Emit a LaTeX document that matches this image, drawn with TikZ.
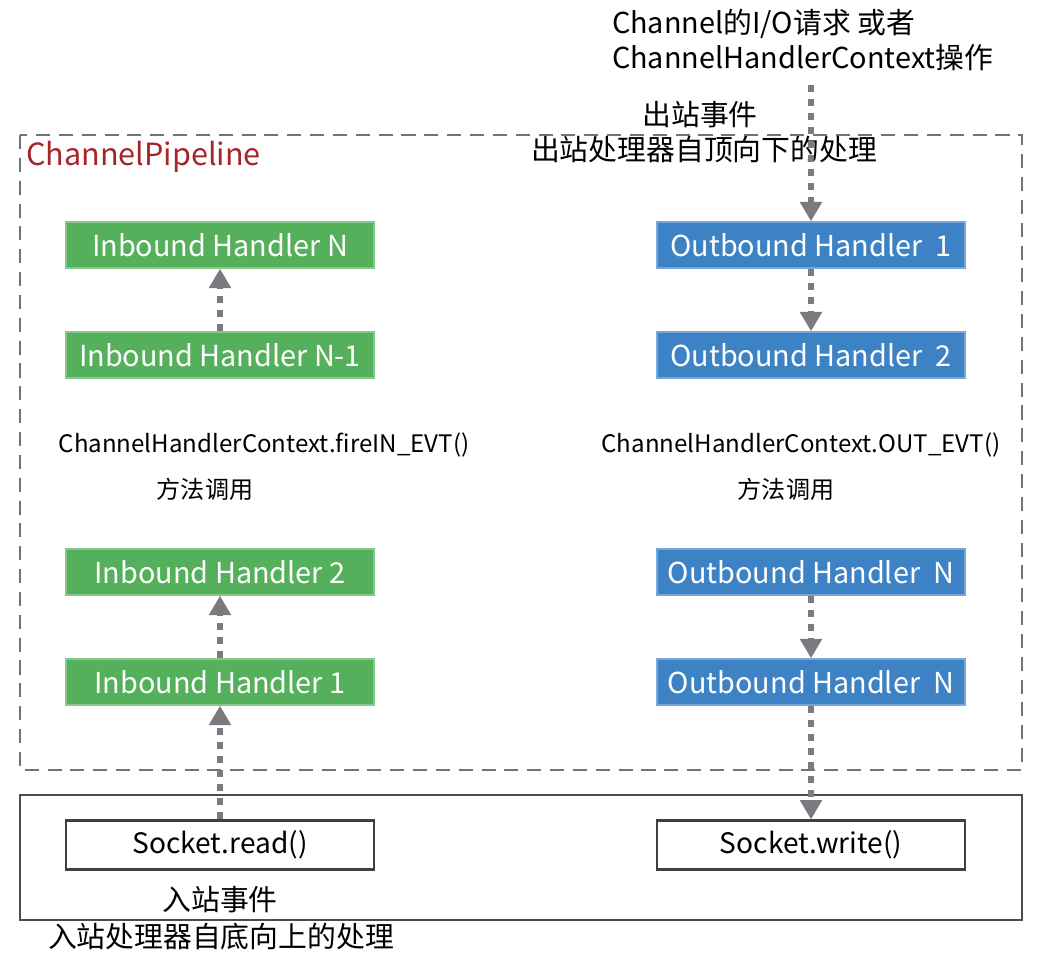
\documentclass[tikz,border=0pt]{standalone}
\usepackage{fontspec}
\setmainfont{Noto Sans CJK SC}
\usetikzlibrary{positioning,arrows.meta}
\definecolor{InGreen}{RGB}{84,176,90}
\definecolor{OutBlue}{RGB}{60,130,196}
\definecolor{PipeRed}{RGB}{165,38,40}
\definecolor{FlowGray}{RGB}{122,122,128}
\tikzset{
  inbox/.style={draw=InGreen!70!white,fill=InGreen,text=white,line width=0.8pt,
    minimum width=6.16cm,minimum height=0.92cm,inner sep=0pt,font=\fontsize{16.4}{19}\selectfont},
  outbox/.style={inbox,draw=OutBlue!70!white,fill=OutBlue},
  sockbox/.style={draw=black!75,fill=white,line width=1.2pt,
    minimum width=6.16cm,minimum height=0.98cm,inner sep=0pt,font=\fontsize{16}{19}\selectfont},
  flow/.style={draw=FlowGray,line width=3pt,dash pattern=on 4pt off 4pt,
    -{Triangle[length=11pt,width=12pt]}},
  note/.style={inner sep=1pt,font=\fontsize{13.7}{16}\selectfont},
  bignote/.style={inner sep=1pt,align=left,font=\fontsize{16.4}{20}\selectfont},
}
\begin{document}
\begin{tikzpicture}
  \useasboundingbox (0,0) rectangle (21,-19.24);
  % frames
  \draw[black!55,line width=1.6pt,dash pattern=on 8pt off 5pt] (0.4,-2.7) rectangle (20.44,-15.4);
  \draw[black!70,line width=1.3pt] (0.4,-15.9) rectangle (20.44,-18.4);
  \node[anchor=west,inner sep=0pt,text=PipeRed,font=\fontsize{17.4}{20}\selectfont] (pipe) at (0.52,-3.14) {ChannelPipeline};
  % inbound side
  \node[inbox] (inN) at (4.4,-4.9) {Inbound Handler N};
  \node[inbox] (inNm) at (4.4,-7.1) {Inbound Handler N-1};
  \node[inbox] (in2) at (4.4,-11.44) {Inbound Handler 2};
  \node[inbox] (in1) at (4.4,-13.64) {Inbound Handler 1};
  \node[sockbox] (read) at (4.4,-16.9) {Socket.read()};
  % outbound side
  \node[outbox] (out1) at (16.22,-4.9) {Outbound Handler\ \ 1};
  \node[outbox] (out2) at (16.22,-7.1) {Outbound Handler\ \ 2};
  \node[outbox] (outN) at (16.22,-11.44) {Outbound Handler\ \ N};
  \node[outbox] (outNb) at (16.22,-13.64) {Outbound Handler\ \ N};
  \node[sockbox] (write) at (16.22,-16.9) {Socket.write()};
  % texts
  \node[bignote,anchor=west] (req) at (12.2,-0.8) {Channel的I/O请求 或者\\ChannelHandlerContext操作};
  \node[bignote] (outevt) at (14.0,-2.3) {出站事件};
  \node[bignote] (outdesc) at (14.08,-3.0) {出站处理器自顶向下的处理};
  \node[note] (fire) at (5.28,-8.9) {ChannelHandlerContext.fireIN\_EVT()};
  \node[note] (firecall) at (4.1,-9.78) {方法调用};
  \node[note] (outcall) at (16.02,-8.9) {ChannelHandlerContext.OUT\_EVT()};
  \node[note] (outcallb) at (15.72,-9.78) {方法调用};
  \node[bignote] (inevt) at (4.4,-18.0) {入站事件};
  \node[bignote] (indesc) at (4.42,-18.74) {入站处理器自底向上的处理};
  % flows
  \coordinate (src) at (16.22,-1.7);
  \draw[flow] (src) -- (out1.north);
  \foreach \a/\b in {out1/out2,outN/outNb,outNb/write,read/in1,in1/in2,inNm/inN}
    \draw[flow] (\a) -- (\b);
\end{tikzpicture}
\end{document}
